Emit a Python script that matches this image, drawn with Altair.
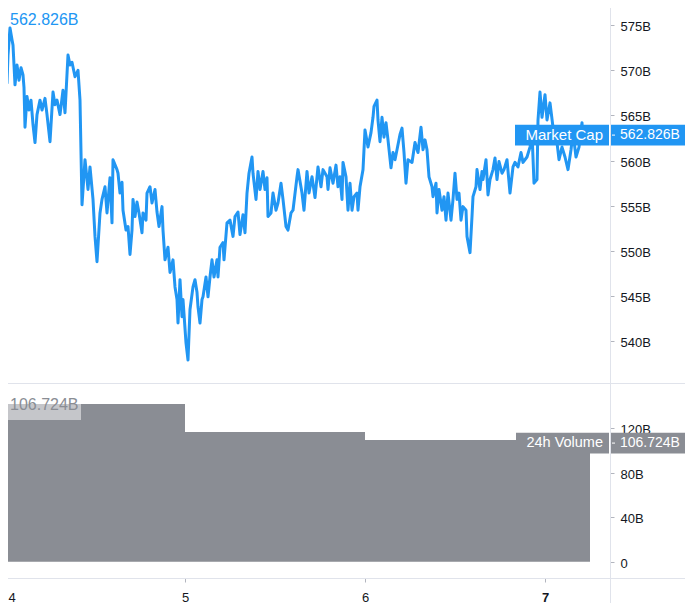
import json
import altair as alt
import pandas as pd

# ---------------- data ----------------
# time in minutes since day 4, 00:00
minutes = [-40, -24, -8, 0, 16, 24, 40, 56, 64, 80, 96, 112, 128, 144, 152, 160, 176, 192, 208, 224,
           240, 256, 280, 296, 320, 336, 360, 384, 400, 416, 440, 464, 480, 504, 520, 536, 560, 584, 600, 616,
           640, 664, 680, 704, 720, 736, 760, 776, 800, 816, 840, 856, 864, 896, 904, 920, 936, 944, 968, 984,
           1000, 1016, 1024, 1040, 1056, 1072, 1096, 1104, 1128, 1136, 1160, 1176, 1200, 1216, 1232, 1256, 1264, 1280, 1304, 1320,
           1344, 1360, 1376, 1384, 1400, 1416, 1424, 1448, 1464, 1480, 1504, 1520, 1536, 1544, 1560, 1576, 1584, 1608, 1624, 1640,
           1656, 1672, 1696, 1704, 1720, 1744, 1752, 1776, 1800, 1824, 1840, 1864, 1880, 1904, 1920, 1936, 1952, 1976, 1984, 2008,
           2024, 2040, 2064, 2080, 2096, 2104, 2128, 2144, 2168, 2184, 2208, 2224, 2248, 2264, 2288, 2304, 2336, 2344, 2376, 2392,
           2416, 2432, 2456, 2480, 2504, 2528, 2544, 2576, 2584, 2600, 2624, 2648, 2664, 2680, 2696, 2704, 2728, 2744, 2760, 2776,
           2792, 2816, 2824, 2840, 2864, 2880, 2904, 2928, 2944, 2952, 2976, 2984, 3000, 3016, 3032, 3048, 3064, 3088, 3104, 3120,
           3136, 3160, 3176, 3192, 3208, 3224, 3256, 3280, 3304, 3328, 3344, 3360, 3376, 3392, 3416, 3424, 3448, 3456, 3472, 3496,
           3512, 3528, 3544, 3568, 3584, 3600, 3616, 3632, 3648, 3664, 3688, 3696, 3720, 3736, 3744, 3768, 3776, 3800, 3816, 3824,
           3848, 3864, 3880, 3904, 3920, 3936, 3952, 3976, 3992, 4016, 4040, 4064, 4080, 4104, 4128, 4144, 4176, 4200, 4216, 4232,
           4256, 4264, 4280, 4296, 4320, 4336, 4360, 4384, 4416, 4432, 4456, 4480, 4504, 4528, 4544, 4568, 4592, 4616, 4624, 4648,
           4664]
# market cap, billions
market_cap_b = [572.3, 572.8, 571.2, 572.5, 568.6, 571.7, 574.7, 573.4, 572.8, 568.4, 570.6, 568.9, 570.3, 569.5, 568.1, 563.7, 567.1, 565.6, 566.7, 564.0,
                562.0, 565.1, 566.7, 565.6, 566.9, 565.1, 562.1, 567.6, 566.2, 566.7, 565.1, 567.8, 565.3, 571.7, 570.6, 570.9, 569.3, 570.0, 566.7, 555.1,
                560.1, 556.8, 559.3, 555.7, 551.6, 548.8, 554.2, 555.7, 557.1, 554.2, 558.1, 553.1, 560.1, 559.0, 558.6, 556.4, 557.6, 554.5, 552.3, 552.7,
                549.6, 552.3, 555.7, 553.8, 555.4, 554.2, 552.0, 554.2, 553.4, 556.4, 557.1, 555.3, 556.8, 554.3, 552.7, 554.9, 552.3, 549.0, 550.4, 547.6,
                549.0, 546.0, 544.6, 542.0, 546.8, 542.7, 544.6, 539.8, 537.9, 543.5, 546.0, 546.8, 545.4, 543.8, 542.0, 544.6, 544.9, 547.1, 544.9, 547.1,
                549.0, 547.1, 549.0, 547.1, 550.4, 550.9, 549.0, 553.1, 553.4, 551.6, 553.8, 554.3, 551.8, 554.0, 552.0, 556.4, 558.6, 560.4, 558.6, 555.7,
                558.8, 556.8, 558.8, 556.8, 558.1, 553.8, 554.2, 556.4, 554.5, 555.3, 557.5, 555.7, 552.7, 552.3, 554.2, 554.5, 558.2, 559.0, 556.4, 554.5,
                558.8, 556.4, 558.2, 555.9, 559.3, 557.1, 559.0, 558.2, 556.8, 559.2, 557.5, 559.5, 557.1, 558.2, 555.7, 559.8, 558.2, 554.5, 557.5, 554.5,
                556.0, 556.4, 554.5, 557.1, 559.0, 563.4, 561.5, 563.1, 564.8, 566.0, 566.7, 564.5, 562.1, 564.8, 562.6, 564.2, 562.3, 559.2, 560.9, 560.1,
                561.2, 562.9, 563.6, 560.9, 557.5, 560.1, 559.8, 562.0, 560.9, 563.7, 561.2, 562.3, 561.2, 558.2, 557.1, 556.0, 557.5, 554.2, 556.8, 554.5,
                556.0, 553.4, 556.4, 553.4, 555.7, 558.6, 555.7, 556.4, 553.4, 554.9, 554.5, 551.6, 549.8, 553.8, 556.0, 557.1, 559.0, 556.8, 558.8, 557.9,
                560.1, 556.2, 557.9, 559.0, 560.3, 557.9, 559.9, 558.6, 559.0, 560.1, 556.4, 559.3, 559.8, 559.3, 560.9, 559.8, 560.4, 561.5, 563.1, 557.5,
                557.9, 564.5, 567.6, 564.8, 567.3, 564.5, 566.4, 563.7, 562.0, 560.1, 561.5, 560.4, 559.0, 561.2, 563.1, 560.4, 561.5, 564.2, 562.3, 563.4,
                562.826]

# daily 24h volume (minutes since day 4 at which each daily value starts), billions
vol_start = [-1440, 0, 1440, 2880, 4320]
vol_end = [0, 1440, 2880, 4320, 4680]
volume_b = [134.7, 141.9, 116.7, 109.5, 106.724]

series_names = ["Market Cap", "24h Volume"]
day_ticks = [0, 1440, 2880, 4320]
day_labels = ["4", "5", "6", "7"]
cap_ticks = [540, 545, 550, 555, 560, 565, 570, 575]
vol_ticks = [0, 40, 80, 120]

# ---------------- styling ----------------
BLUE = "#2196f3"
GRAY = "#8a8d94"
RULE = "#e0e3eb"
TICK = "#b2b5be"
TXT = "#131722"
FONT = "Liberation Sans"
W = 610
H_TOP = 383
H_BOT = 195

price = pd.DataFrame({"m": minutes, "v": market_cap_b})
# step outline of the daily volume histogram (one point per day start, plus the end of the last day)
vol_step = pd.DataFrame({"m": vol_start + [vol_end[-1]], "v": volume_b + [volume_b[-1]]})
last_price = pd.DataFrame({"v": [market_cap_b[-1]], "name": [series_names[0]]})
last_vol = pd.DataFrame({"v": [volume_b[-1]], "name": [series_names[1]]})

xs = alt.Scale(domain=[-40, 4840], nice=False, zero=False)
ys_p = alt.Scale(domain=[535.35, 577.8], nice=False, zero=False)
ys_v = alt.Scale(domain=[-14.7, 160.8], nice=False, zero=False)

yaxis_common = dict(orient="right", domain=False, grid=False, tickSize=4, tickColor=TICK,
                    labelColor=TXT, labelFont=FONT, labelFontSize=13, labelPadding=6,
                    labelOffset=1.5, title=None)
yaxis_p = alt.Axis(values=cap_ticks, labelExpr="datum.value + 'B'", **yaxis_common)
yaxis_v = alt.Axis(values=vol_ticks, labelExpr="datum.value == 0 ? '0' : datum.value + 'B'", **yaxis_common)

label_expr_x = "%s[indexof(%s, datum.value)]" % (json.dumps(day_labels), json.dumps(day_ticks))
xaxis = alt.Axis(values=day_ticks, labelExpr=label_expr_x, domain=False, grid=False, tickSize=4,
                 tickColor=TICK, labelColor=TXT, labelFont=FONT, labelFontSize=13, labelPadding=9,
                 labelFlush=False, title=None,
                 labelAlign={"condition": {"test": "datum.value == %d" % day_ticks[0], "value": "left"},
                             "value": "center"},
                 labelOffset={"condition": {"test": "datum.value == %d" % day_ticks[0], "value": 3},
                              "value": 0},
                 labelFontWeight={"condition": {"test": "datum.value == %d" % day_ticks[-1], "value": "bold"},
                                  "value": "normal"})

fmt = "format(datum.v, '.3f') + 'B'"

# ---------------- top panel: market cap ----------------
p_line = alt.Chart(price).mark_line(color=BLUE, strokeWidth=3, clip=True, strokeJoin="round").encode(
    x=alt.X("m:Q", scale=xs, axis=None),
    y=alt.Y("v:Q", scale=ys_p, axis=yaxis_p),
)
p_sep = alt.Chart(last_price).mark_rule(color=RULE, strokeWidth=1).encode(
    x=alt.value(1), x2=alt.value(690), y=alt.value(H_TOP + 0.5))
p_vline = alt.Chart(last_price).mark_rule(color=RULE, strokeWidth=1).encode(
    x=alt.value(W + 0.5), y=alt.value(1), y2=alt.value(H_TOP))

p_box_base = alt.Chart(last_price).transform_calculate(lo="datum.v - 1.15", hi="datum.v + 1.15",
                                                       label=fmt)
p_box_l = p_box_base.mark_rect(color=BLUE).encode(
    x=alt.value(515), x2=alt.value(609),
    y=alt.Y("lo:Q", scale=ys_p, axis=yaxis_p), y2="hi:Q")
p_box_r = p_box_base.mark_rect(color=BLUE).encode(
    x=alt.value(611), x2=alt.value(690),
    y=alt.Y("lo:Q", scale=ys_p, axis=yaxis_p), y2="hi:Q")
p_box_tick = p_box_base.mark_rule(color="white", strokeWidth=1).encode(
    x=alt.value(612), x2=alt.value(615), y=alt.Y("v:Q", scale=ys_p, axis=yaxis_p))
p_name = p_box_base.mark_text(align="right", baseline="middle", color="white", font=FONT,
                              fontSize=15).encode(
    x=alt.value(603), y=alt.Y("v:Q", scale=ys_p, axis=yaxis_p), text="name:N")
p_val = p_box_base.mark_text(align="left", baseline="middle", color="white", font=FONT,
                             fontSize=14).encode(
    x=alt.value(620), y=alt.Y("v:Q", scale=ys_p, axis=yaxis_p), text="label:N")
p_legend = p_box_base.mark_text(align="left", baseline="alphabetic", color=BLUE, font=FONT,
                                fontSize=16).encode(
    x=alt.value(10), y=alt.value(25), text="label:N")

top = alt.layer(p_line, p_sep, p_vline, p_box_l, p_box_r, p_box_tick, p_name, p_val, p_legend).properties(
    width=W, height=H_TOP)

# ---------------- bottom panel: 24h volume ----------------
v_bars = alt.Chart(vol_step).mark_area(color=GRAY, clip=True, interpolate="step-after", opacity=1).encode(
    x=alt.X("m:Q", scale=xs, axis=xaxis),
    y=alt.Y("v:Q", scale=ys_v, axis=yaxis_v), y2=alt.datum(0))
v_axisline = alt.Chart(last_vol).mark_rule(color=RULE, strokeWidth=1).encode(
    x=alt.value(1), x2=alt.value(690), y=alt.value(H_BOT + 0.5))
v_bottom = alt.Chart(last_vol).mark_rule(color=RULE, strokeWidth=1).encode(
    x=alt.value(1), x2=alt.value(690), y=alt.value(H_BOT + 34.5))
v_vline = alt.Chart(last_vol).mark_rule(color=RULE, strokeWidth=1).encode(
    x=alt.value(W + 0.5), y=alt.value(0), y2=alt.value(H_BOT + 34))

v_box_base = alt.Chart(last_vol).transform_calculate(lo="datum.v - 9.3", hi="datum.v + 9.3", label=fmt)
v_box_l = v_box_base.mark_rect(color=GRAY).encode(
    x=alt.value(516), x2=alt.value(609),
    y=alt.Y("lo:Q", scale=ys_v, axis=yaxis_v), y2="hi:Q")
v_box_r = v_box_base.mark_rect(color=GRAY).encode(
    x=alt.value(611), x2=alt.value(690),
    y=alt.Y("lo:Q", scale=ys_v, axis=yaxis_v), y2="hi:Q")
v_box_tick = v_box_base.mark_rule(color="white", strokeWidth=1).encode(
    x=alt.value(612), x2=alt.value(615), y=alt.Y("v:Q", scale=ys_v, axis=yaxis_v))
v_name = v_box_base.mark_text(align="right", baseline="middle", color="white", font=FONT,
                              fontSize=14.5).encode(
    x=alt.value(603), y=alt.Y("v:Q", scale=ys_v, axis=yaxis_v), text="name:N")
v_val = v_box_base.mark_text(align="left", baseline="middle", color="white", font=FONT,
                             fontSize=14).encode(
    x=alt.value(620), y=alt.Y("v:Q", scale=ys_v, axis=yaxis_v), text="label:N")
v_legend_bg = v_box_base.mark_rect(color="white", opacity=0.5).encode(
    x=alt.value(5), x2=alt.value(81), y=alt.value(14), y2=alt.value(37))
v_legend = v_box_base.mark_text(align="left", baseline="alphabetic", color=GRAY, font=FONT,
                                fontSize=16).encode(
    x=alt.value(10), y=alt.value(27), text="label:N")

bottom = alt.layer(v_bars, v_axisline, v_bottom, v_vline, v_box_l, v_box_r, v_box_tick,
                   v_name, v_val, v_legend_bg, v_legend).properties(width=W, height=H_BOT)

# negative padding puts the chart's top-left at the page corner; the right and bottom
# padding keep the whole page (with its margins) inside the 695x615 window
chart = alt.vconcat(top, bottom, spacing=0, bounds="flush").properties(
    padding={"left": -8, "top": -8, "right": -6, "bottom": -10},
    background="white",
).configure_view(stroke=None).configure_axis(grid=False)

chart.save("out.html", embed_options={"renderer": "svg", "actions": False})
